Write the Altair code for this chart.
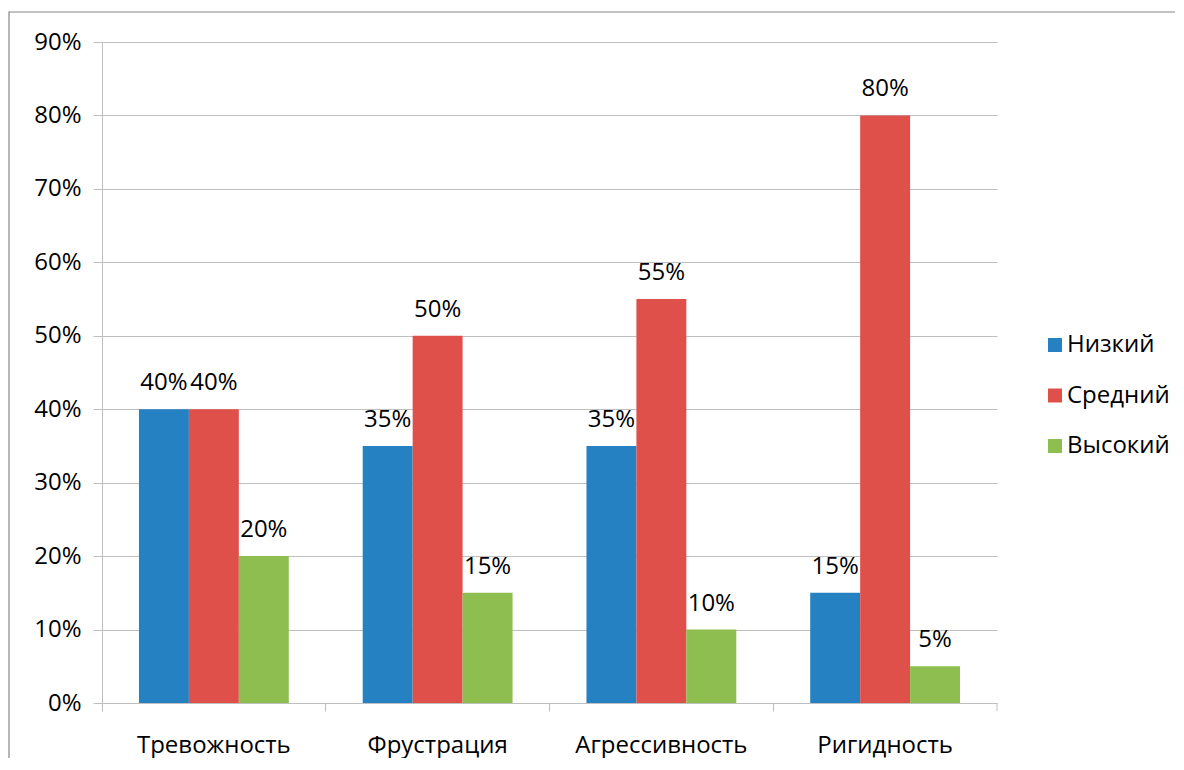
import altair as alt
import pandas as pd

categories = ["Тревожность", "Фрустрация", "Агрессивность", "Ригидность"]
series = ["Низкий", "Средний", "Высокий"]
colors = ["#2681C2", "#E0504B", "#8DBE4F"]
low = [0.40, 0.35, 0.35, 0.15]
mid = [0.40, 0.50, 0.55, 0.80]
high = [0.20, 0.15, 0.10, 0.05]
y_ticks = [0, 0.1, 0.2, 0.3, 0.4, 0.5, 0.6, 0.7, 0.8, 0.9]

rows = []
for s, vals in zip(series, [low, mid, high]):
    for c, v in zip(categories, vals):
        rows.append({"cat": c, "ser": s, "val": v})
df = pd.DataFrame(rows)

FONT = "Open Sans"
W, H = 895, 661

x_enc = alt.X("cat:N", sort=categories, title=None,
              scale=alt.Scale(paddingInner=0, paddingOuter=0),
              axis=alt.Axis(bandPosition=0, tickSize=8, labelPadding=41,
                            labelBaseline="alphabetic", labelAngle=0,
                            labelFontSize=24, labelFont=FONT, labelColor="#000000",
                            domainColor="#BFBFBF", tickColor="#BFBFBF", grid=False))
xo_enc = alt.XOffset("ser:N", sort=series,
                     scale=alt.Scale(paddingOuter=0.74, paddingInner=0))
y_enc = alt.Y("val:Q", title=None,
              scale=alt.Scale(domain=[0, 0.9], nice=False),
              axis=alt.Axis(values=y_ticks, format=".0%", tickSize=9, labelPadding=12,
                            labelFontSize=24, labelFont=FONT, labelColor="#000000",
                            domainColor="#BFBFBF", tickColor="#BFBFBF",
                            gridColor="#BFBFBF", grid=True))

base = alt.Chart(df)

bars = base.mark_bar().encode(
    x=x_enc, xOffset=xo_enc, y=y_enc,
    color=alt.Color("ser:N", sort=series,
                    scale=alt.Scale(domain=series, range=colors),
                    legend=alt.Legend(title=None, orient="none", legendX=941, legendY=291,
                                      symbolType="square", symbolSize=196,
                                      symbolStrokeWidth=0, labelFontSize=24,
                                      labelFont=FONT, labelColor="#000000",
                                      rowPadding=26.5, labelOffset=0, padding=0,
                                      labelLimit=300)),
)

labels = base.mark_text(dy=-19, baseline="alphabetic", fontSize=24, font=FONT,
                        color="#000000").encode(
    x=alt.X("cat:N", sort=categories), xOffset=alt.XOffset("ser:N", sort=series),
    y="val:Q", text=alt.Text("val:Q", format=".0%"),
)

end_tick = alt.Chart(pd.DataFrame({"a": [0]})).mark_rule(color="#BFBFBF").encode(
    x=alt.value(W), y=alt.value(H), y2=alt.value(H + 8))

frame = alt.Chart(pd.DataFrame({"a": [0]})).mark_rect(
    fill=None, stroke="#868686", strokeWidth=1.2).encode(
    x=alt.value(-93), y=alt.value(-30), x2=alt.value(1400), y2=alt.value(1000))

chart = alt.layer(frame, bars, labels, end_tick).properties(
    width=W, height=H,
    autosize=alt.AutoSizeParams(type="none"),
    padding={"left": 94, "top": 34, "right": 178, "bottom": 55},
).configure_view(stroke=None)

chart.save("out.html", embed_options={"renderer": "svg", "actions": False})
